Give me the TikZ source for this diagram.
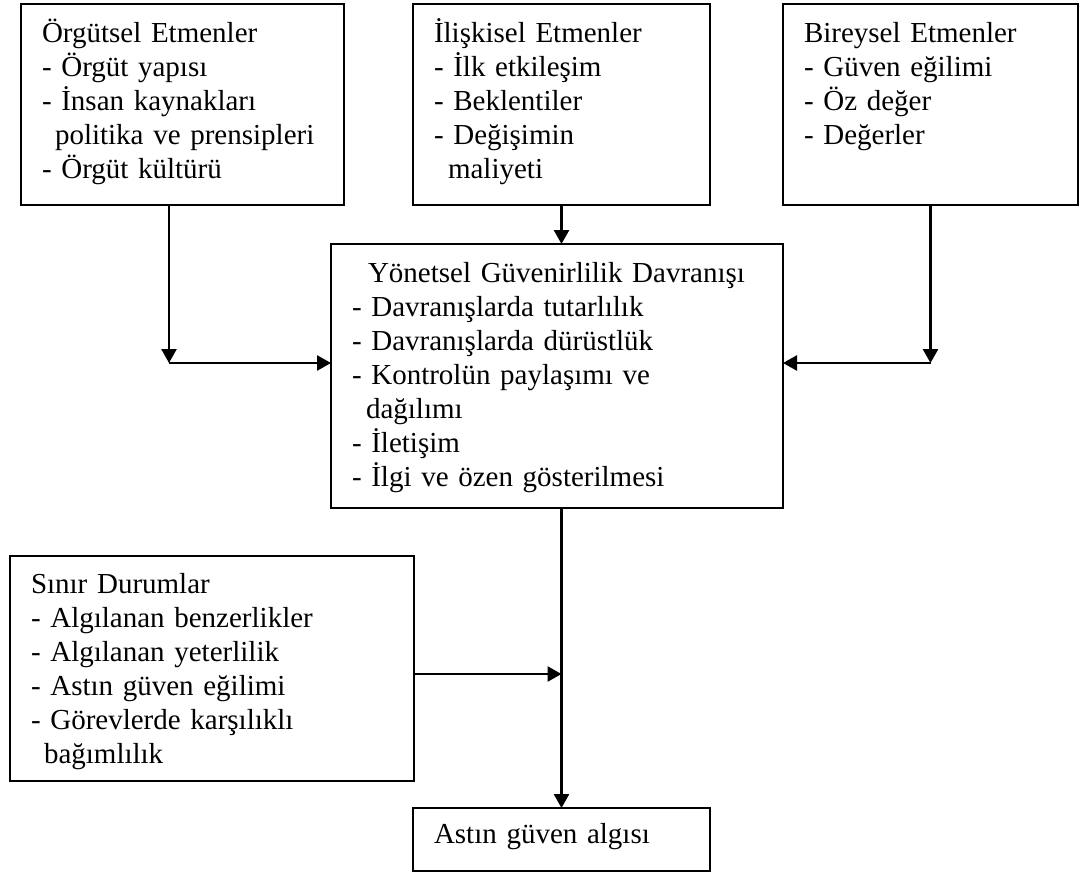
\documentclass[tikz,border=0pt]{standalone}
\usepackage{fontspec}
\setmainfont{Liberation Serif}
\usetikzlibrary{arrows.meta,positioning}

\begin{document}
\begin{tikzpicture}[
        x=1pt,
        y=-1pt,
        >=Stealth,
        box/.style={
            draw,
            line width=2.6pt,
            anchor=north west,
            align=left,
            outer sep=0pt,
            inner xsep=21pt,
            inner ysep=16pt,
            text height=22pt,
            font=\fontsize{29}{34}\selectfont
        },
        flow/.style={-{Triangle[length=14pt,width=15pt]}, line width=2.6pt}
    ]
        \useasboundingbox (0,0) rectangle (1083,875);

        % Top row of factors, central behaviour box, boundary conditions and outcome.
        \node[box, text width=281pt, text depth=147pt] (orgut) at (21,4) {Örgütsel Etmenler\\
            - Örgüt yapısı\\
            - İnsan kaynakları\\
            \hspace*{13pt}politika ve prensipleri\\
            - Örgüt kültürü};
        \node[box, text width=255pt, text depth=147pt] (iliski) at (413,4) {İlişkisel Etmenler\\
            - İlk etkileşim\\
            - Beklentiler\\
            - Değişimin\\
            \hspace*{14pt}maliyeti};
        \node[box, text width=253pt, text depth=147pt] (birey) at (783,4) {Bireysel Etmenler\\
            - Güven eğilimi\\
            - Öz değer\\
            - Değerler};
        \node[box, text width=410pt, text depth=210pt] (yonet) at (331,244) {\hspace*{16pt}Yönetsel Güvenirlilik Davranışı\\
            - Davranışlarda tutarlılık\\
            - Davranışlarda dürüstlük\\
            - Kontrolün paylaşımı ve\\
            \hspace*{14pt}dağılımı\\
            - İletişim\\
            - İlgi ve özen gösterilmesi};
        \node[box, text width=362pt, text depth=172pt, text height=21pt] (sinir) at (10,556) {Sınır Durumlar\\
            - Algılanan benzerlikler\\
            - Algılanan yeterlilik\\
            - Astın güven eğilimi\\
            - Görevlerde karşılıklı\\
            \hspace*{13pt}bağımlılık};
        \node[box, text width=255pt, text depth=12pt, text height=19pt] (astin) at (413,808) {Astın güven algısı};

        \coordinate (lcorner) at (169,363);
        \coordinate (rcorner) at (birey.south |- lcorner);
        \coordinate (sjoin) at (astin.north |- {(0,674)});

        \draw[flow] (orgut.south -| lcorner) -- (lcorner);
        \draw[flow] (lcorner) -- (lcorner -| yonet.west);
        \draw[flow] (birey.south) -- (rcorner);
        \draw[flow] (rcorner) -- (rcorner -| yonet.east);
        \draw[flow] (iliski.south) -- (iliski.south |- yonet.north);
        \draw[flow] (yonet.south -| astin.north) -- (astin.north);
        \draw[flow] (sinir.east |- sjoin) -- (sjoin);

    \end{tikzpicture}
\end{document}
